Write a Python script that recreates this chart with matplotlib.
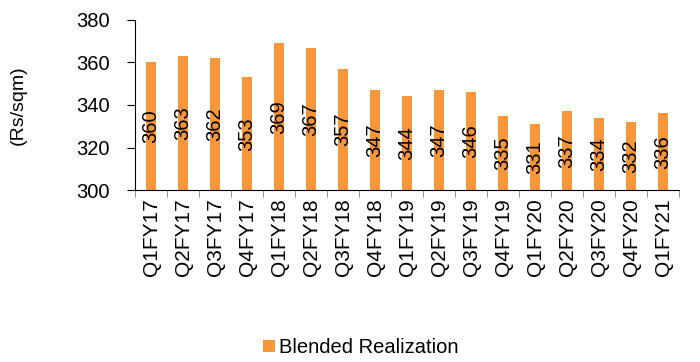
import matplotlib.pyplot as plt
import numpy as np

plt.rcParams['font.family'] = ['Liberation Sans', 'DejaVu Sans']

quarters = ['Q1FY17', 'Q2FY17', 'Q3FY17', 'Q4FY17', 'Q1FY18', 'Q2FY18', 'Q3FY18',
            'Q4FY18', 'Q1FY19', 'Q2FY19', 'Q3FY19', 'Q4FY19', 'Q1FY20', 'Q2FY20',
            'Q3FY20', 'Q4FY20', 'Q1FY21']
realization = [360, 363, 362, 353, 369, 367, 357, 347, 344, 347, 346, 335, 331, 337, 334, 332, 336]

fig = plt.figure(figsize=(7, 3.62), dpi=100)
ax = fig.add_axes([0.193, 0.475, 0.777, 0.47])

x = np.arange(len(quarters))
bars = ax.bar(x, realization, width=0.31, color='#F7963A', label='Blended Realization', zorder=2)

ymin = 300
for xi, v in zip(x, realization):
    ax.text(xi, (v + ymin) / 2, str(v), rotation=90, ha='center', va='center', fontsize=14.5)

ax.set_ylim(300, 380)
ax.set_yticks([300, 320, 340, 360, 380])
ax.set_xlim(-0.5, len(quarters) - 0.5)
ax.set_xticks(x)
ax.set_xticklabels(quarters, rotation=90, fontsize=15)
ax.tick_params(axis='x', length=0, pad=6)
ax.set_xticks(np.arange(-0.5, len(quarters)), minor=True)
ax.tick_params(axis='x', which='minor', length=5, color='#808080', direction='out')
ax.tick_params(axis='y', labelsize=14.5, length=6, direction='out', pad=12)
ax.set_ylabel('(Rs/sqm)', fontsize=14, labelpad=36)

for s in ['top', 'right']:
    ax.spines[s].set_visible(False)

fig.legend(handles=[bars], labels=['Blended Realization'], loc='center',
           bbox_to_anchor=(0.515, 0.04), frameon=False, fontsize=14.5,
           handlelength=0.6, handleheight=0.6, handletextpad=0.2)

fig.savefig('out.png', dpi=100)
